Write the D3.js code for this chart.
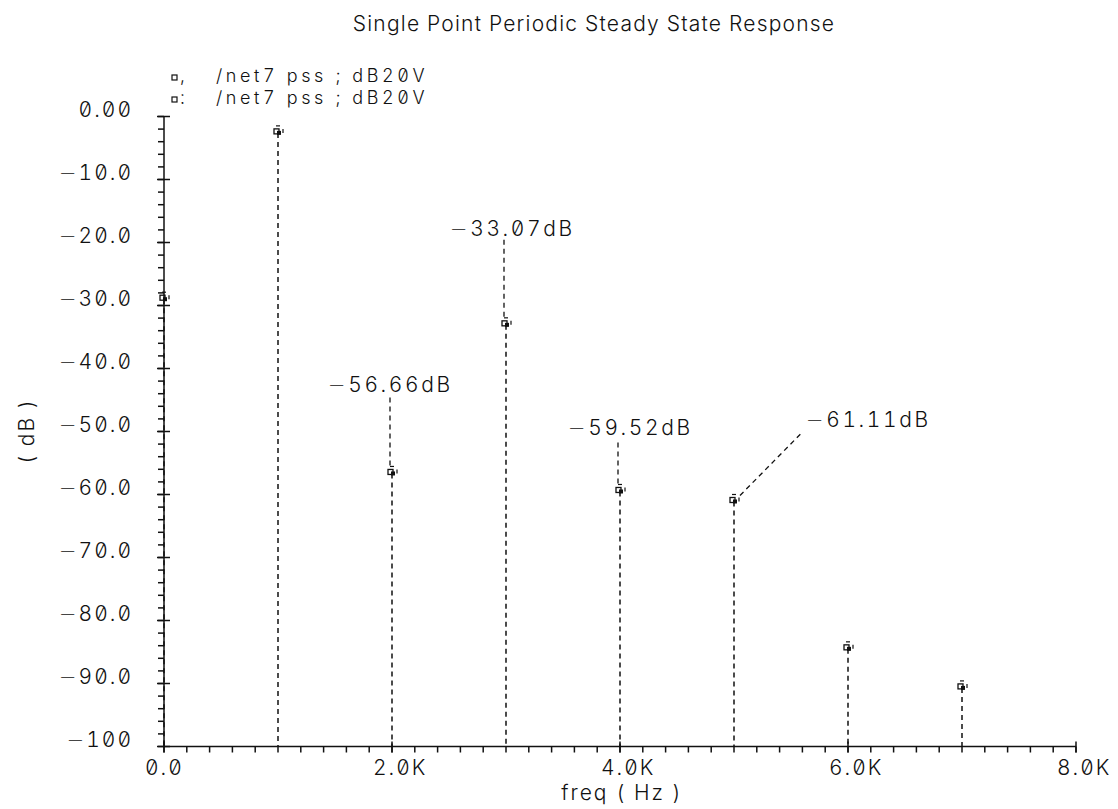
<!DOCTYPE html>
<html>
<head>
<meta charset="utf-8">
<script src="https://cdn.jsdelivr.net/npm/d3@7"></script>
<style>
  body { margin: 0; background: #fff; }
  svg { display: block; }
  text {
    font-family: Inter, "DejaVu Sans", sans-serif;
    font-weight: 300;
    font-size: 21px;
    fill: #111;
    font-feature-settings: "zero" 1, "tnum" 1;
    letter-spacing: 2px;
  }
  text.title { letter-spacing: 1.2px; }
  text.legend { font-size: 18px; letter-spacing: 3.6px; }
  text.readout { letter-spacing: 2.6px; }
  tspan.minus { font-family: "DejaVu Sans", sans-serif; font-weight: 200; }
</style>
</head>
<body>
<svg width="1118" height="809"></svg>
<script>
// harmonics of the pss run (Hz) and their level (dB20 of /net7)
var freqs = [0, 1000, 2000, 3000, 4000, 5000, 6000, 7000];
var levels = [-29.0, -2.6, -56.66, -33.07, -59.52, -61.11, -84.5, -90.7];

// marker readouts placed on the plot
var markerFreqs = [2000, 3000, 4000, 5000];
var markerTexts = ["−56.66dB", "−33.07dB", "−59.52dB", "−61.11dB"];
// where each readout sits relative to its point (px), layout only
var markerDx = [-64, -56, -52, 72];
var markerDy = [-81, -89, -56, -74];

var yTicks = [0, -10, -20, -30, -40, -50, -60, -70, -80, -90, -100];
var yTickLabels = ["0.00", "−10.0", "−20.0", "−30.0", "−40.0", "−50.0", "−60.0", "−70.0", "−80.0", "−90.0", "−100"];
var xTicks = [0, 2000, 4000, 6000, 8000];
var xTickLabels = ["0.0", "2.0K", "4.0K", "6.0K", "8.0K"];

var legendPunct = [",", ":"];
var legendTexts = ["/net7 pss ; dB20V", "/net7 pss ; dB20V"];

// write a label, giving a leading minus sign the wider DejaVu glyph
function label(sel, s){
    if (s.charAt(0) === "−") {
        sel.append("tspan").attr("class", "minus").text("−");
        sel.append("tspan").text(s.slice(1));
    } else {
        sel.text(s);
    }
}

var chart = {
    svg: null,
    x: null,
    y: null,
    left: 164,
    right: 1076,
    top: 116.5,
    bottom: 746.5,

    init: function(){
        this.svg = d3.select("svg");
        this.x = d3.scaleLinear().domain([0, 8000]).range([this.left, this.right]);
        this.y = d3.scaleLinear().domain([-100, 0]).range([this.bottom, this.top]);
        this.drawAxes();
        this.drawStems();
        this.drawMarkers();
        this.drawText();
    },

    drawAxes: function(){
        var x = this.x, y = this.y, svg = this.svg;
        var g = svg.append("g").attr("stroke", "#111").attr("stroke-width", 1.5);

        g.append("line").attr("x1", x(0)).attr("x2", x(0)).attr("y1", y(0)).attr("y2", y(-100));
        g.append("line").attr("x1", x(0)).attr("x2", x(8000)).attr("y1", y(-100)).attr("y2", y(-100));

        // y minor ticks every 2 dB, majors every 10
        var yMinor = d3.range(-100, 0.1, 2);
        g.selectAll(".ymin").data(yMinor).enter().append("line")
            .attr("x1", x(0) - 6).attr("x2", x(0))
            .attr("y1", function(d){ return y(d); })
            .attr("y2", function(d){ return y(d); });
        g.selectAll(".ymaj").data(yTicks).enter().append("line")
            .attr("x1", x(0) - 7).attr("x2", x(0) + 6)
            .attr("y1", function(d){ return y(d); })
            .attr("y2", function(d){ return y(d); });

        // x minor ticks every 200 Hz, majors every 2k
        var xMinor = d3.range(0, 8001, 200);
        g.selectAll(".xmin").data(xMinor).enter().append("line")
            .attr("x1", function(d){ return x(d); })
            .attr("x2", function(d){ return x(d); })
            .attr("y1", y(-100)).attr("y2", y(-100) + 6);
        g.selectAll(".xmaj").data(xTicks).enter().append("line")
            .attr("x1", function(d){ return x(d); })
            .attr("x2", function(d){ return x(d); })
            .attr("y1", y(-100) - 5).attr("y2", y(-100) + 6);

        svg.selectAll(".ylab").data(yTicks).enter().append("text")
            .attr("x", 133)
            .attr("y", function(d){ return y(d); })
            .attr("text-anchor", "end")
            .each(function(d, i){ label(d3.select(this), yTickLabels[i]); });

        svg.selectAll(".xlab").data(xTicks).enter().append("text")
            .attr("x", function(d){ return x(d) - 19; })
            .attr("y", y(-100) + 28)
            .text(function(d, i){ return xTickLabels[i]; });
    },

    drawStems: function(){
        var x = this.x, y = this.y;
        this.svg.append("g").selectAll("line").data(freqs).enter().append("line")
            .attr("x1", function(d){ return x(d); })
            .attr("x2", function(d){ return x(d); })
            .attr("y1", function(d, i){ return y(levels[i]); })
            .attr("y2", y(-100))
            .attr("stroke", "#111")
            .attr("stroke-width", 1.5)
            .attr("stroke-dasharray", "5,4");
    },

    drawMarkers: function(){
        var x = this.x, y = this.y;
        var m = this.svg.append("g").selectAll("g").data(freqs).enter().append("g")
            .attr("transform", function(d, i){ return "translate(" + x(d) + "," + y(levels[i]) + ")"; });
        // series 1: hollow square, series 2: filled square slightly offset
        m.append("rect").attr("x", -4).attr("y", -4).attr("width", 5).attr("height", 5)
            .attr("fill", "none").attr("stroke", "#111").attr("stroke-width", 1.3);
        m.append("rect").attr("x", -1).attr("y", -2).attr("width", 4).attr("height", 4)
            .attr("fill", "#111");
        m.append("line").attr("x1", -2).attr("x2", 2).attr("y1", -7).attr("y2", -7)
            .attr("stroke", "#111").attr("stroke-width", 1.2);
        m.append("line").attr("x1", 5).attr("x2", 5).attr("y1", -4).attr("y2", 0)
            .attr("stroke", "#111").attr("stroke-width", 1.2);

        // readouts with dashed leaders
        var svg = this.svg;
        markerFreqs.forEach(function(f, i){
            var px = x(f), py = y(levels[freqs.indexOf(f)]);
            var tx = px + markerDx[i], ty = py + markerDy[i];
            var lead = svg.append("line")
                .attr("stroke", "#111").attr("stroke-width", 1.3)
                .attr("stroke-dasharray", "5,4");
            if (markerDx[i] > 0) {
                lead.attr("x1", px + 6).attr("y1", py - 6)
                    .attr("x2", tx - 3).attr("y2", ty + 4);
            } else {
                lead.attr("x1", px - 2).attr("y1", py - 8)
                    .attr("x2", px - 2).attr("y2", ty + 4);
            }
            var t = svg.append("text").attr("class", "readout").attr("x", tx).attr("y", ty);
            label(t, markerTexts[i]);
        });
    },

    drawText: function(){
        var svg = this.svg;
        svg.append("text").attr("class", "title")
            .attr("x", 594).attr("y", 31).attr("text-anchor", "middle")
            .text("Single Point Periodic Steady State Response");

        svg.append("text").attr("x", 622).attr("y", 800).attr("text-anchor", "middle")
            .text("freq ( Hz )");

        svg.append("text")
            .attr("transform", "translate(34,431) rotate(-90)")
            .attr("text-anchor", "middle")
            .text("( dB )");

        var leg = svg.append("g").selectAll("g").data(legendTexts).enter().append("g")
            .attr("transform", function(d, i){ return "translate(172," + (82 + i * 22) + ")"; });
        leg.append("rect").attr("x", 0).attr("y", -7).attr("width", 5).attr("height", 5)
            .attr("fill", "none").attr("stroke", "#111").attr("stroke-width", 1.2);
        leg.append("text").attr("class", "legend").attr("x", 8).attr("y", 0)
            .text(function(d, i){ return legendPunct[i]; });
        leg.append("text").attr("class", "legend").attr("x", 44).attr("y", 0)
            .text(function(d){ return d; });
    }
};

chart.init();
</script>
</body>
</html>
